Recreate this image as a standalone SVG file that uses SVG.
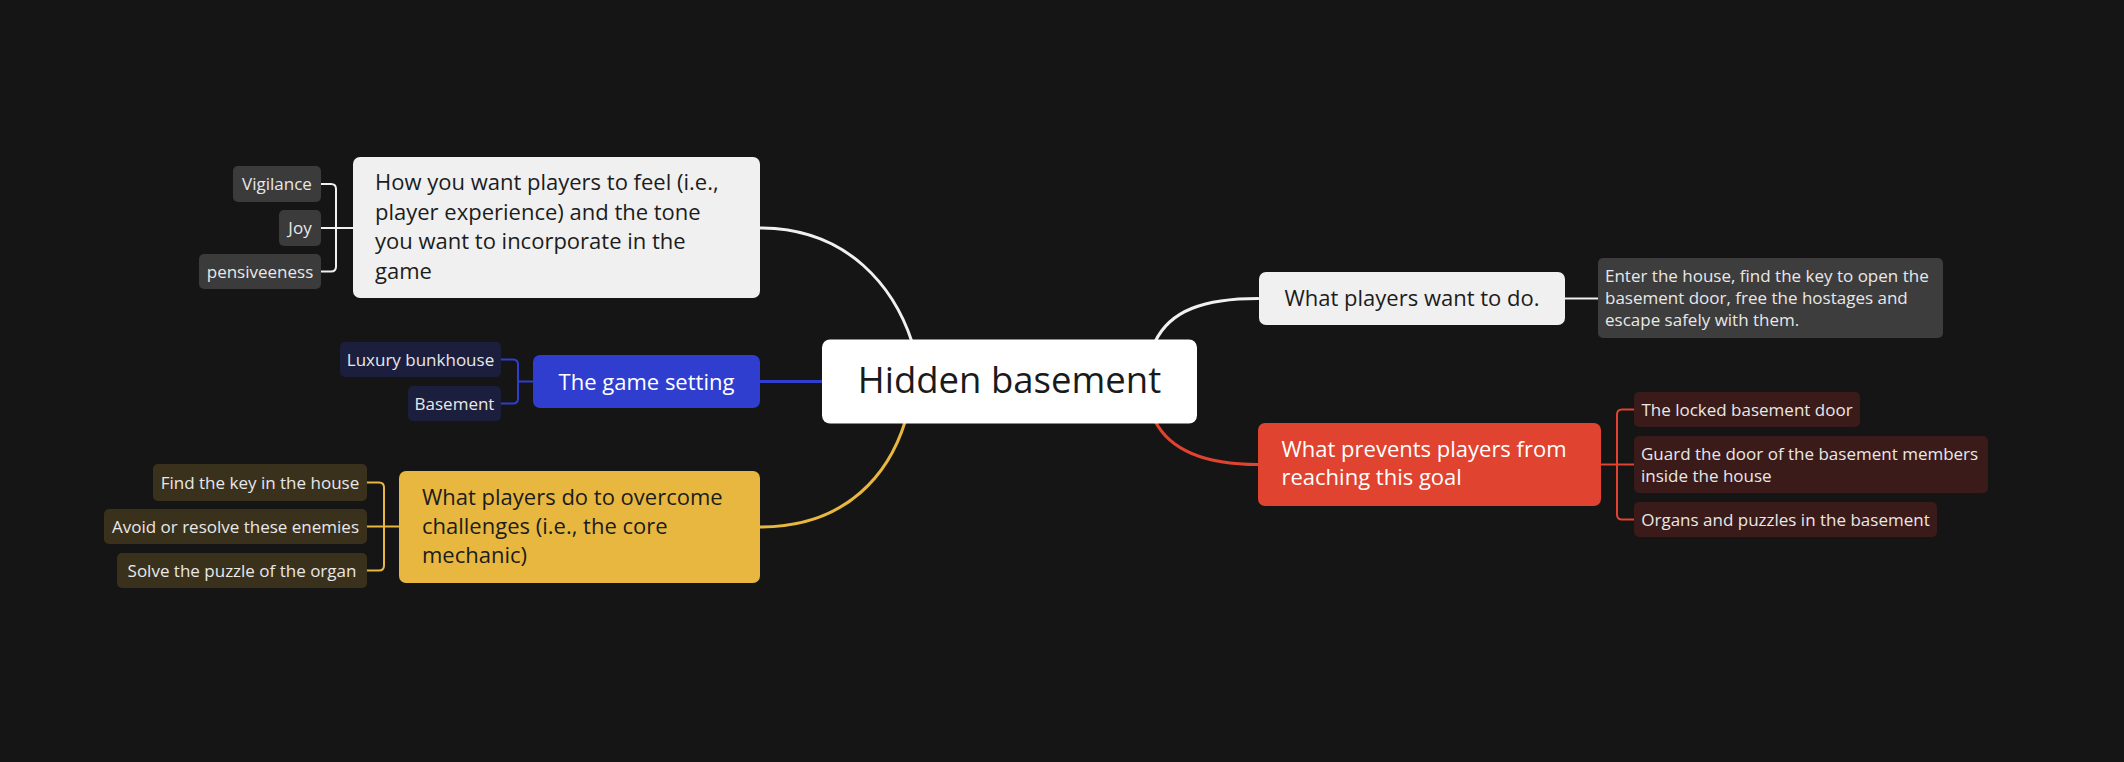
<svg xmlns="http://www.w3.org/2000/svg" width="2124" height="762" viewBox="0 0 2124 762">
  <style>
    text { font-family: "Open Sans", "Noto Sans", "Liberation Sans", sans-serif; }
    .root-t { font-size: 36.5px; fill: #1a1a1a; text-anchor: middle; }
    .l1 { font-size: 22px; }
    .l1-dark { fill: #1c1c1c; }
    .l1-light { fill: #ffffff; }
    .c { font-size: 17px; fill: #e8e8e8; }
    .mid { text-anchor: middle; }
    .curve { fill: none; stroke-width: 3; stroke-linecap: round; }
    .br { fill: none; stroke-width: 2; }
    .white { stroke: #f0f0f0; }
    .blue { stroke: #2f3ecf; }
    .yellow { stroke: #e8b740; }
    .red { stroke: #e0432f; }
  </style>
  <rect width="2124" height="762" fill="#151515"/>

  <!-- connectors -->
  <g id="connectors">
    <path class="curve white" d="M760,228 C850,228 895,290 912,342"/>
    <path class="curve blue" d="M760,381.5 H824"/>
    <path class="curve yellow" d="M760,527 C850,527 890,470 905,422"/>
    <path class="curve white" d="M1155,342 C1170,310 1205,298.5 1258,298.5"/>
    <path class="curve red" d="M1155,421 C1170,450 1205,464.5 1258,464.5"/>

    <path class="br white" d="M321,184 H331 Q336,184 336,189 V266.5 Q336,271.5 331,271.5 H321 M321,228 H353"/>
    <path class="br blue" d="M501,359.5 H513 Q518,359.5 518,364.5 V398.5 Q518,403.5 513,403.5 H501 M518,381.5 H533"/>
    <path class="br yellow" d="M367,482.5 H379 Q384,482.5 384,487.5 V565.5 Q384,570.5 379,570.5 H367 M367,526.5 H399"/>
    <path class="br white" d="M1565,298.5 H1598"/>
    <path class="br red" d="M1634,409.5 H1622 Q1617,409.5 1617,414.5 V514.5 Q1617,519.5 1622,519.5 H1634 M1601,464.5 H1634"/>
  </g>

  <!-- root -->
  <g id="root">
    <rect x="822" y="339.5" width="375" height="84" rx="8" fill="#ffffff"/>
    <text class="root-t" x="1009.5" y="393">Hidden basement</text>
  </g>

  <!-- experience branch -->
  <g id="experience">
    <rect x="353" y="157" width="407" height="141" rx="7" fill="#f0f0f0"/>
    <text class="l1 l1-dark" x="375" y="190">How you want players to feel (i.e.,</text>
    <text class="l1 l1-dark" x="375" y="219.5">player experience) and the tone</text>
    <text class="l1 l1-dark" x="375" y="249">you want to incorporate in the</text>
    <text class="l1 l1-dark" x="375" y="278.5">game</text>
  </g>
  <g id="vigilance">
    <rect x="233" y="166" width="88" height="36" rx="5" fill="#3b3b3b"/>
    <text class="c mid" x="277" y="190">Vigilance</text>
  </g>
  <g id="joy">
    <rect x="279" y="210" width="42" height="36" rx="5" fill="#3b3b3b"/>
    <text class="c mid" x="300" y="234">Joy</text>
  </g>
  <g id="pensiveeness">
    <rect x="199" y="254" width="122" height="35" rx="5" fill="#3b3b3b"/>
    <text class="c mid" x="260" y="277.5">pensiveeness</text>
  </g>

  <!-- setting branch -->
  <g id="setting">
    <rect x="533" y="355" width="227" height="53" rx="7" fill="#2f3ecf"/>
    <text class="l1 l1-light mid" x="646.5" y="389.5">The game setting</text>
  </g>
  <g id="bunkhouse">
    <rect x="340" y="342" width="161" height="35" rx="5" fill="#1b1e3d"/>
    <text class="c mid" x="420.5" y="365.5">Luxury bunkhouse</text>
  </g>
  <g id="basement">
    <rect x="408" y="386" width="93" height="35" rx="5" fill="#1b1e3d"/>
    <text class="c mid" x="454.5" y="409.5">Basement</text>
  </g>

  <!-- mechanic branch -->
  <g id="mechanic">
    <rect x="399" y="471" width="361" height="112" rx="7" fill="#e8b740"/>
    <text class="l1 l1-dark" x="422" y="505">What players do to overcome</text>
    <text class="l1 l1-dark" x="422" y="534">challenges (i.e., the core</text>
    <text class="l1 l1-dark" x="422" y="562.5">mechanic)</text>
  </g>
  <g id="find-key">
    <rect x="153" y="464" width="214" height="37" rx="5" fill="#3a311d"/>
    <text class="c mid" x="260" y="488.5">Find the key in the house</text>
  </g>
  <g id="avoid">
    <rect x="104" y="509" width="263" height="35" rx="5" fill="#3a311d"/>
    <text class="c mid" x="235.5" y="532.5">Avoid or resolve these enemies</text>
  </g>
  <g id="solve">
    <rect x="117" y="553" width="250" height="35" rx="5" fill="#3a311d"/>
    <text class="c mid" x="242" y="576.5">Solve the puzzle of the organ</text>
  </g>

  <!-- goal branch -->
  <g id="goal">
    <rect x="1259" y="272" width="306" height="53" rx="7" fill="#f0f0f0"/>
    <text class="l1 l1-dark mid" x="1412" y="305.5">What players want to do.</text>
  </g>
  <g id="goal-detail">
    <rect x="1598" y="258" width="345" height="80" rx="5" fill="#3d3d3d"/>
    <text class="c" x="1605" y="282">Enter the house, find the key to open the</text>
    <text class="c" x="1605" y="304">basement door, free the hostages and</text>
    <text class="c" x="1605" y="326">escape safely with them.</text>
  </g>

  <!-- obstacles branch -->
  <g id="obstacles">
    <rect x="1258" y="423" width="343" height="83" rx="7" fill="#e0432f"/>
    <text class="l1 l1-light" x="1281.5" y="457">What prevents players from</text>
    <text class="l1 l1-light" x="1281.5" y="485">reaching this goal</text>
  </g>
  <g id="locked-door">
    <rect x="1634" y="392" width="226" height="35" rx="5" fill="#3a1b19"/>
    <text class="c mid" x="1747" y="415.5">The locked basement door</text>
  </g>
  <g id="guard">
    <rect x="1634" y="436" width="354" height="57" rx="5" fill="#3a1b19"/>
    <text class="c" x="1641" y="459.5">Guard the door of the basement members</text>
    <text class="c" x="1641" y="481.5">inside the house</text>
  </g>
  <g id="organs">
    <rect x="1634" y="502" width="303" height="35" rx="5" fill="#3a1b19"/>
    <text class="c mid" x="1785.5" y="525.5">Organs and puzzles in the basement</text>
  </g>
</svg>
